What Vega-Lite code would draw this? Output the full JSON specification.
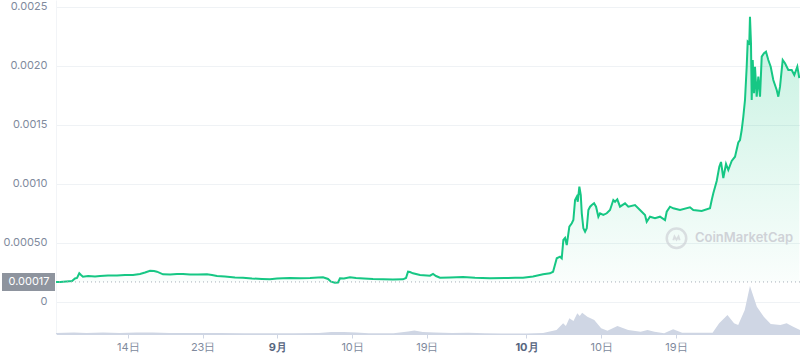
{
  "$schema": "https://vega.github.io/schema/vega-lite/v6.json",
  "width": 744,
  "height": 334,
  "autosize": "none",
  "padding": {"left": 56, "top": 0, "right": 0, "bottom": 24},
  "background": "white",
  "config": {"view": {"stroke": null}, "font": "Inter"},
  "resolve": {"scale": {"y": "independent"}},
  "layer": [
    {
      "data": {
        "format": {"parse": {"t": "utc:'%Y-%m-%dT%H:%M'"}},
        "values": [
          {"t": "2023-08-05T08:10", "v": 1}, {"t": "2023-08-07T12:00", "v": 1.5}, {"t": "2023-08-09T00:00", "v": 1},
          {"t": "2023-08-11T00:00", "v": 1.5}, {"t": "2023-08-13T00:00", "v": 1}, {"t": "2023-08-15T00:00", "v": 1.5},
          {"t": "2023-08-17T00:00", "v": 1.5}, {"t": "2023-08-19T00:00", "v": 1}, {"t": "2023-08-22T00:00", "v": 1},
          {"t": "2023-08-25T00:00", "v": 1}, {"t": "2023-08-28T00:00", "v": 0.7}, {"t": "2023-08-31T00:00", "v": 0.7},
          {"t": "2023-09-03T00:00", "v": 0.7}, {"t": "2023-09-06T00:00", "v": 1}, {"t": "2023-09-07T12:00", "v": 2},
          {"t": "2023-09-09T00:00", "v": 2}, {"t": "2023-09-10T12:00", "v": 1.5}, {"t": "2023-09-12T00:00", "v": 0.7},
          {"t": "2023-09-15T00:00", "v": 0.7}, {"t": "2023-09-16T18:00", "v": 2.5}, {"t": "2023-09-17T12:00", "v": 3.5},
          {"t": "2023-09-18T12:00", "v": 2}, {"t": "2023-09-20T00:00", "v": 1.5}, {"t": "2023-09-22T00:00", "v": 1},
          {"t": "2023-09-24T00:00", "v": 1.2}, {"t": "2023-09-26T00:00", "v": 0.7}, {"t": "2023-09-28T00:00", "v": 0.5},
          {"t": "2023-10-01T00:00", "v": 0.5}, {"t": "2023-10-03T00:00", "v": 1}, {"t": "2023-10-04T15:00", "v": 4},
          {"t": "2023-10-05T10:00", "v": 10.7}, {"t": "2023-10-05T18:00", "v": 8}, {"t": "2023-10-06T04:00", "v": 15.7},
          {"t": "2023-10-06T16:00", "v": 13}, {"t": "2023-10-07T03:00", "v": 20.7}, {"t": "2023-10-07T10:00", "v": 18},
          {"t": "2023-10-07T17:00", "v": 21.3}, {"t": "2023-10-08T08:00", "v": 17.3}, {"t": "2023-10-09T04:00", "v": 14},
          {"t": "2023-10-10T00:00", "v": 5.7}, {"t": "2023-10-10T18:00", "v": 3.3}, {"t": "2023-10-11T23:00", "v": 8},
          {"t": "2023-10-13T06:00", "v": 4}, {"t": "2023-10-14T18:00", "v": 2.3}, {"t": "2023-10-15T14:00", "v": 4},
          {"t": "2023-10-16T10:00", "v": 2.3}, {"t": "2023-10-17T14:00", "v": 0.7}, {"t": "2023-10-18T16:00", "v": 4.7},
          {"t": "2023-10-19T18:00", "v": 1.3}, {"t": "2023-10-22T00:00", "v": 1.3}, {"t": "2023-10-23T10:00", "v": 1.3},
          {"t": "2023-10-24T05:00", "v": 10.7}, {"t": "2023-10-25T05:00", "v": 19}, {"t": "2023-10-26T00:00", "v": 10.7},
          {"t": "2023-10-26T12:00", "v": 9}, {"t": "2023-10-27T07:00", "v": 24}, {"t": "2023-10-27T22:00", "v": 48},
          {"t": "2023-10-28T18:00", "v": 27.3}, {"t": "2023-10-29T14:00", "v": 17.3}, {"t": "2023-10-30T10:00", "v": 10},
          {"t": "2023-10-31T14:00", "v": 9}, {"t": "2023-11-01T08:00", "v": 10.7}, {"t": "2023-11-02T03:00", "v": 7.3},
          {"t": "2023-11-02T22:40", "v": 4}
        ]
      },
      "mark": {"type": "area", "color": "#cfd6e4", "opacity": 1},
      "encoding": {
        "x": {
          "field": "t", "type": "temporal",
          "scale": {"type": "utc", "domain": [{"year": 2023, "month": 8, "date": 5, "hours": 8, "minutes": 10, "utc": true}, {"year": 2023, "month": 11, "date": 2, "hours": 22, "minutes": 40, "utc": true}]},
          "axis": {
            "title": null,
            "grid": false,
            "values": [
              {"year": 2023, "month": 8, "date": 14, "utc": true},
              {"year": 2023, "month": 8, "date": 23, "utc": true},
              {"year": 2023, "month": 9, "date": 1, "utc": true},
              {"year": 2023, "month": 9, "date": 10, "utc": true},
              {"year": 2023, "month": 9, "date": 19, "utc": true},
              {"year": 2023, "month": 10, "date": 1, "utc": true},
              {"year": 2023, "month": 10, "date": 10, "utc": true},
              {"year": 2023, "month": 10, "date": 19, "utc": true}
            ],
            "labelExpr": "utcdate(datum.value) == 1 ? (utcmonth(datum.value) + 1) + '月' : utcdate(datum.value) + '日'",
            "labelFontWeight": {"condition": {"test": "utcdate(datum.value) == 1", "value": "bold"}, "value": "normal"},
            "labelColor": {"condition": {"test": "utcdate(datum.value) == 1", "value": "#58667e"}, "value": "#808a9d"},
            "labelFontSize": 11,
            "labelPadding": 3,
            "domainColor": "#cfd6e4",
            "tickColor": "#cfd6e4",
            "tickSize": 4
          }
        },
        "y": {"field": "v", "type": "quantitative", "scale": {"domain": [0, 334], "nice": false, "zero": true}, "axis": null}
      }
    },
    {
      "layer": [
        {
          "data": {
            "format": {"parse": {"t": "utc:'%Y-%m-%dT%H:%M'"}},
            "values": [
              {"t": "2023-08-05T08:10", "p": 0.0001695}, {"t": "2023-08-05T20:00", "p": 0.0001695}, {"t": "2023-08-06T13:30", "p": 0.0001737},
              {"t": "2023-08-07T06:30", "p": 0.000178}, {"t": "2023-08-07T15:00", "p": 0.0001992}, {"t": "2023-08-07T21:00", "p": 0.0002034},
              {"t": "2023-08-08T03:30", "p": 0.0002432}, {"t": "2023-08-08T08:30", "p": 0.0002288}, {"t": "2023-08-08T14:00", "p": 0.0002144},
              {"t": "2023-08-09T05:00", "p": 0.0002203}, {"t": "2023-08-10T01:00", "p": 0.0002161}, {"t": "2023-08-10T15:30", "p": 0.0002203},
              {"t": "2023-08-11T14:30", "p": 0.0002246}, {"t": "2023-08-12T16:30", "p": 0.0002246}, {"t": "2023-08-13T15:30", "p": 0.0002288},
              {"t": "2023-08-14T14:40", "p": 0.0002288}, {"t": "2023-08-15T11:00", "p": 0.0002373}, {"t": "2023-08-16T01:30", "p": 0.00025},
              {"t": "2023-08-16T16:00", "p": 0.0002653}, {"t": "2023-08-17T03:30", "p": 0.0002627}, {"t": "2023-08-17T12:00", "p": 0.0002568},
              {"t": "2023-08-18T05:30", "p": 0.0002347}, {"t": "2023-08-19T02:00", "p": 0.0002331}, {"t": "2023-08-19T22:00", "p": 0.0002373},
              {"t": "2023-08-20T15:20", "p": 0.0002373}, {"t": "2023-08-21T11:30", "p": 0.0002331}, {"t": "2023-08-22T10:30", "p": 0.0002331},
              {"t": "2023-08-23T12:30", "p": 0.0002347}, {"t": "2023-08-24T03:00", "p": 0.0002288}, {"t": "2023-08-24T17:30", "p": 0.0002203},
              {"t": "2023-08-25T16:30", "p": 0.0002161}, {"t": "2023-08-26T21:30", "p": 0.0002076}, {"t": "2023-08-27T20:40", "p": 0.0002059},
              {"t": "2023-08-28T22:40", "p": 0.0001992}, {"t": "2023-08-30T03:30", "p": 0.0001949}, {"t": "2023-08-31T02:40", "p": 0.0001924},
              {"t": "2023-08-31T23:00", "p": 0.0001992}, {"t": "2023-09-01T16:20", "p": 0.0002008}, {"t": "2023-09-02T12:30", "p": 0.0002034},
              {"t": "2023-09-03T17:30", "p": 0.0002008}, {"t": "2023-09-04T22:30", "p": 0.0002034}, {"t": "2023-09-05T21:30", "p": 0.0002076},
              {"t": "2023-09-06T12:00", "p": 0.0002093}, {"t": "2023-09-07T02:30", "p": 0.0001949}, {"t": "2023-09-07T11:00", "p": 0.000172},
              {"t": "2023-09-07T22:30", "p": 0.0001636}, {"t": "2023-09-08T07:20", "p": 0.0001653}, {"t": "2023-09-08T13:00", "p": 0.0002008},
              {"t": "2023-09-09T00:30", "p": 0.0001992}, {"t": "2023-09-09T18:00", "p": 0.0002093}, {"t": "2023-09-10T11:20", "p": 0.0002034},
              {"t": "2023-09-11T10:30", "p": 0.0001992}, {"t": "2023-09-12T12:30", "p": 0.0001949}, {"t": "2023-09-13T17:20", "p": 0.0001924},
              {"t": "2023-09-14T22:10", "p": 0.0001907}, {"t": "2023-09-16T03:10", "p": 0.0001924}, {"t": "2023-09-16T11:50", "p": 0.0002034},
              {"t": "2023-09-16T17:40", "p": 0.0002568}, {"t": "2023-09-16T23:30", "p": 0.0002542}, {"t": "2023-09-17T08:00", "p": 0.0002432},
              {"t": "2023-09-18T04:20", "p": 0.0002288}, {"t": "2023-09-19T09:10", "p": 0.0002229}, {"t": "2023-09-19T18:00", "p": 0.0002373},
              {"t": "2023-09-20T02:30", "p": 0.0002203}, {"t": "2023-09-20T14:00", "p": 0.0002059}, {"t": "2023-09-21T19:00", "p": 0.0002076},
              {"t": "2023-09-23T08:30", "p": 0.0002119}, {"t": "2023-09-24T19:20", "p": 0.0002051}, {"t": "2023-09-26T14:40", "p": 0.0002008},
              {"t": "2023-09-28T10:00", "p": 0.0002034}, {"t": "2023-09-29T15:00", "p": 0.0002051}, {"t": "2023-09-30T14:00", "p": 0.0002059},
              {"t": "2023-10-01T19:00", "p": 0.0002161}, {"t": "2023-10-03T00:00", "p": 0.0002347}, {"t": "2023-10-03T20:10", "p": 0.0002432},
              {"t": "2023-10-04T04:55", "p": 0.0002568}, {"t": "2023-10-04T15:35", "p": 0.0003703}, {"t": "2023-10-05T01:05", "p": 0.0003839},
              {"t": "2023-10-05T06:00", "p": 0.0003703}, {"t": "2023-10-05T10:40", "p": 0.0005254}, {"t": "2023-10-05T15:35", "p": 0.0005424},
              {"t": "2023-10-05T20:30", "p": 0.0004831}, {"t": "2023-10-06T04:00", "p": 0.0006381}, {"t": "2023-10-06T11:00", "p": 0.000667},
              {"t": "2023-10-06T15:35", "p": 0.0006949}, {"t": "2023-10-06T20:30", "p": 0.0008644}, {"t": "2023-10-07T01:25", "p": 0.0008924},
              {"t": "2023-10-07T04:20", "p": 0.00085}, {"t": "2023-10-07T08:55", "p": 0.0009771}, {"t": "2023-10-07T13:00", "p": 0.0009068},
              {"t": "2023-10-07T15:55", "p": 0.0007517}, {"t": "2023-10-07T20:30", "p": 0.0006246}, {"t": "2023-10-08T01:25", "p": 0.0005958},
              {"t": "2023-10-08T06:20", "p": 0.0006246}, {"t": "2023-10-08T11:00", "p": 0.0007797}, {"t": "2023-10-08T15:55", "p": 0.0008076},
              {"t": "2023-10-08T20:50", "p": 0.000822}, {"t": "2023-10-09T03:25", "p": 0.0008364}, {"t": "2023-10-09T09:10", "p": 0.0008076},
              {"t": "2023-10-09T15:50", "p": 0.0007229}, {"t": "2023-10-09T20:40", "p": 0.0007517}, {"t": "2023-10-10T06:10", "p": 0.0007373},
              {"t": "2023-10-10T16:05", "p": 0.0007517}, {"t": "2023-10-11T01:30", "p": 0.0007797}, {"t": "2023-10-11T11:05", "p": 0.0008644},
              {"t": "2023-10-11T16:00", "p": 0.00085}, {"t": "2023-10-11T22:35", "p": 0.0008703}, {"t": "2023-10-12T06:25", "p": 0.0008076},
              {"t": "2023-10-12T20:55", "p": 0.0008364}, {"t": "2023-10-13T06:25", "p": 0.0008076}, {"t": "2023-10-14T01:45", "p": 0.000822},
              {"t": "2023-10-14T16:10", "p": 0.0007797}, {"t": "2023-10-15T06:40", "p": 0.0007373}, {"t": "2023-10-15T11:35", "p": 0.0006805},
              {"t": "2023-10-15T21:05", "p": 0.0007229}, {"t": "2023-10-16T11:35", "p": 0.0007093}, {"t": "2023-10-17T02:00", "p": 0.0007229},
              {"t": "2023-10-17T16:30", "p": 0.0006949}, {"t": "2023-10-17T21:25", "p": 0.0007653}, {"t": "2023-10-18T06:55", "p": 0.0008076},
              {"t": "2023-10-18T16:30", "p": 0.0007941}, {"t": "2023-10-19T11:50", "p": 0.0007797}, {"t": "2023-10-20T16:40", "p": 0.0008025},
              {"t": "2023-10-21T02:15", "p": 0.0007797}, {"t": "2023-10-22T02:30", "p": 0.0007712}, {"t": "2023-10-23T02:30", "p": 0.0007941},
              {"t": "2023-10-23T07:30", "p": 0.0008644}, {"t": "2023-10-23T12:05", "p": 0.0009212}, {"t": "2023-10-23T21:55", "p": 0.0010254},
              {"t": "2023-10-24T05:25", "p": 0.0011466}, {"t": "2023-10-24T10:20", "p": 0.0011864}, {"t": "2023-10-24T17:00", "p": 0.0010508},
              {"t": "2023-10-25T00:50", "p": 0.0011695}, {"t": "2023-10-25T07:25", "p": 0.0011186}, {"t": "2023-10-25T17:15", "p": 0.0011949},
              {"t": "2023-10-26T02:50", "p": 0.0012314}, {"t": "2023-10-26T12:20", "p": 0.0013517}, {"t": "2023-10-26T17:15", "p": 0.0013729},
              {"t": "2023-10-26T22:10", "p": 0.0014576}, {"t": "2023-10-27T02:50", "p": 0.0015703}, {"t": "2023-10-27T07:40", "p": 0.0017119},
              {"t": "2023-10-27T12:35", "p": 0.0019941}, {"t": "2023-10-27T15:30", "p": 0.0022059}, {"t": "2023-10-27T20:05", "p": 0.0021924},
              {"t": "2023-10-27T22:05", "p": 0.0024178}, {"t": "2023-10-28T01:00", "p": 0.0021924}, {"t": "2023-10-28T03:05", "p": 0.0017119},
              {"t": "2023-10-28T06:00", "p": 0.0020508}, {"t": "2023-10-28T09:45", "p": 0.0017686}, {"t": "2023-10-28T12:35", "p": 0.0019941},
              {"t": "2023-10-28T17:30", "p": 0.0017398}, {"t": "2023-10-28T22:10", "p": 0.0019093}, {"t": "2023-10-29T03:05", "p": 0.0017398},
              {"t": "2023-10-29T08:00", "p": 0.0020788}, {"t": "2023-10-29T14:40", "p": 0.0021076}, {"t": "2023-10-29T20:25", "p": 0.0021212},
              {"t": "2023-10-30T03:05", "p": 0.0020508}, {"t": "2023-10-30T10:00", "p": 0.0019941}, {"t": "2023-10-30T17:30", "p": 0.0018814},
              {"t": "2023-10-31T03:20", "p": 0.0017966}, {"t": "2023-10-31T08:00", "p": 0.0017398}, {"t": "2023-10-31T12:55", "p": 0.0018246},
              {"t": "2023-10-31T20:40", "p": 0.0020508}, {"t": "2023-11-01T03:20", "p": 0.0020229}, {"t": "2023-11-01T12:55", "p": 0.0019661},
              {"t": "2023-11-01T22:40", "p": 0.0019661}, {"t": "2023-11-02T06:10", "p": 0.0019237}, {"t": "2023-11-02T14:55", "p": 0.0019941},
              {"t": "2023-11-02T20:40", "p": 0.0018983}
            ]
          },
          "layer": [
            {
              "mark": {
                "type": "area",
                "fill": {"gradient": "linear", "x1": 0, "y1": 0, "x2": 0, "y2": 1, "stops": [{"offset": 0, "color": "rgba(22,199,132,0.25)"}, {"offset": 1, "color": "rgba(22,199,132,0.02)"}]}
              },
              "encoding": {
                "x": {"field": "t", "type": "temporal", "axis": {"title": null}},
                "y": {
                  "field": "p", "type": "quantitative",
                  "scale": {"domain": [-0.0002712, 0.0025593], "nice": false, "zero": false},
                  "axis": {
                    "title": null,
                    "values": [0, 0.0005, 0.001, 0.0015, 0.002, 0.0025],
                    "labelExpr": "datum.value == 0 ? '0' : (datum.value == 0.0005 ? '0.00050' : format(datum.value, '.4f'))",
                    "grid": true,
                    "gridColor": "#eff2f5",
                    "ticks": false,
                    "domain": true,
                    "domainColor": "#f2f4f7",
                    "labelPadding": 9,
                    "labelColor": "#808a9d",
                    "labelFontSize": 11
                  }
                },
                "y2": {"datum": 0.00017}
              }
            },
            {
              "mark": {"type": "line", "color": "#16c784", "strokeWidth": 2},
              "encoding": {
                "x": {"field": "t", "type": "temporal", "axis": {"title": null}},
                "y": {"field": "p", "type": "quantitative", "axis": {"title": null}}
              }
            }
          ]
        },
        {
          "data": {
            "format": {"parse": {"t": "utc:'%Y-%m-%dT%H:%M'"}},
            "values": [{"t": "2023-08-05T08:10", "p": 0.00017, "label": "0.00017"}]
          },
          "layer": [
            {
              "mark": {"type": "rule", "strokeDash": [1, 3], "color": "#a6adb8", "strokeWidth": 1},
              "encoding": {"y": {"field": "p", "type": "quantitative", "axis": {"title": null}}}
            },
            {
              "mark": {"type": "rect", "color": "#8e949e", "xOffset": -54, "x2Offset": -1, "yOffset": -9, "y2Offset": 9},
              "encoding": {
                "x": {"field": "t", "type": "temporal", "axis": {"title": null}},
                "x2": {"field": "t"},
                "y": {"field": "p", "type": "quantitative", "axis": {"title": null}},
                "y2": {"field": "p"}
              }
            },
            {
              "mark": {"type": "text", "align": "center", "baseline": "middle", "dx": -27, "fontSize": 11, "color": "white"},
              "encoding": {
                "x": {"field": "t", "type": "temporal", "axis": {"title": null}},
                "y": {"field": "p", "type": "quantitative", "axis": {"title": null}},
                "text": {"field": "label"}
              }
            }
          ]
        },
        {
          "data": {
            "format": {"parse": {"t": "utc:'%Y-%m-%dT%H:%M'", "t2": "utc:'%Y-%m-%dT%H:%M'"}},
            "values": [{"t": "2023-10-19T01:40", "t2": "2023-10-21T06:50", "p": 0.00054, "name": "CoinMarketCap"}]
          },
          "layer": [
            {
              "mark": {"type": "point", "shape": "circle", "filled": false, "size": 380, "strokeWidth": 2.5, "color": "#cfd2d7"},
              "encoding": {
                "x": {"field": "t", "type": "temporal", "axis": {"title": null}},
                "y": {"field": "p", "type": "quantitative", "axis": {"title": null}}
              }
            },
            {
              "mark": {"type": "point", "shape": "M-0.55,0.35 L-0.35,-0.3 L0,0.25 L0.35,-0.3 L0.55,0.35", "filled": false, "size": 130, "strokeWidth": 2, "color": "#cfd2d7"},
              "encoding": {
                "x": {"field": "t", "type": "temporal", "axis": {"title": null}},
                "y": {"field": "p", "type": "quantitative", "axis": {"title": null}}
              }
            },
            {
              "mark": {"type": "text", "align": "left", "baseline": "middle", "fontSize": 13, "fontWeight": 600, "color": "#cfd2d7"},
              "encoding": {
                "x": {"field": "t2", "type": "temporal", "axis": {"title": null}},
                "y": {"field": "p", "type": "quantitative", "axis": {"title": null}},
                "text": {"field": "name"}
              }
            }
          ]
        }
      ]
    }
  ]
}
